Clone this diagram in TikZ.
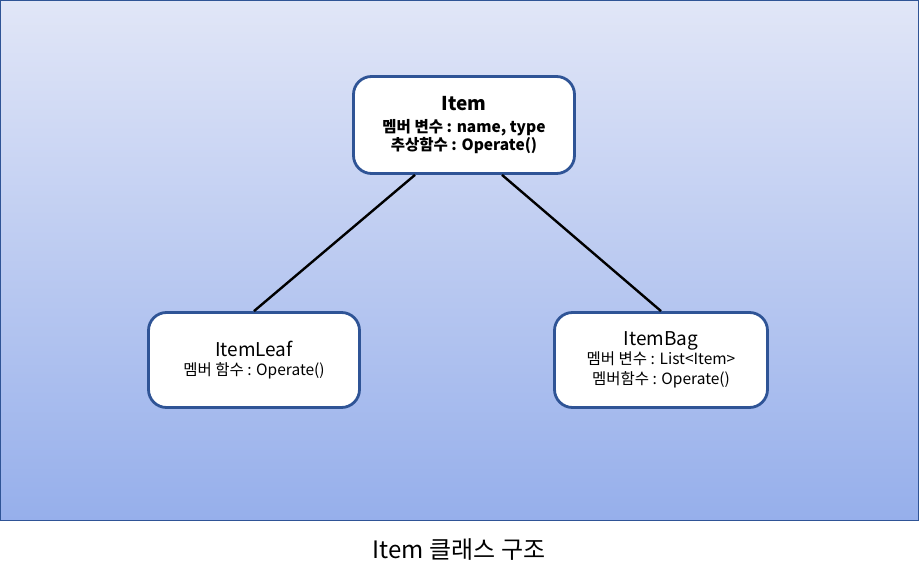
\documentclass[tikz,border=0pt]{standalone}
\usepackage{fontspec}
\setmainfont{Noto Sans CJK KR}
\usepackage{tikz}
\definecolor{bgtop}{RGB}{225,230,247}
\definecolor{bgbottom}{RGB}{150,175,235}
\definecolor{frameblue}{RGB}{47,84,150}
\tikzset{
  classbox/.style={rectangle,rounded corners=18pt,draw=frameblue,line width=2.8pt,fill=white,align=center,inner sep=0pt},
  link/.style={draw=black,line width=2.4pt}
}
\newcommand{\subsize}{\fontsize{15.5}{19.5}\selectfont}
\newcommand{\titlefont}{\fontsize{19}{22}\selectfont}

\begin{document}
\begin{tikzpicture}[x=1pt,y=-1pt]
\useasboundingbox (0,0) rectangle (919,580);
\shade[top color=bgtop,bottom color=bgbottom,draw=frameblue,line width=1pt] (0.5,0.5) rectangle (918.5,520);
\node[classbox,font=\subsize\bfseries,minimum width=221pt,minimum height=97pt] (item) at (464,125)
  {{\titlefont Item}\\[2pt]멤버 변수 : name, type\\[-1.5pt]추상함수 : Operate()};
\node[classbox,font=\subsize,minimum width=211pt,minimum height=95pt] (leaf) at (254,360)
  {{\titlefont ItemLeaf}\\[-1pt]멤버 함수 : Operate()};
\node[classbox,font=\subsize,minimum width=213pt,minimum height=95pt] (bag) at (661,360)
  {{\titlefont ItemBag}\\[0pt]멤버 변수 : List<Item>\\[0.5pt]멤버함수 : Operate()};
\draw[link] ([xshift=-49pt]item.south) -- (leaf.north);
\draw[link] ([xshift=38pt]item.south) -- (bag.north);
\node[font=\fontsize{24}{28}\selectfont] (caption) at (459,550) {Item 클래스 구조};
\end{tikzpicture}
\end{document}
